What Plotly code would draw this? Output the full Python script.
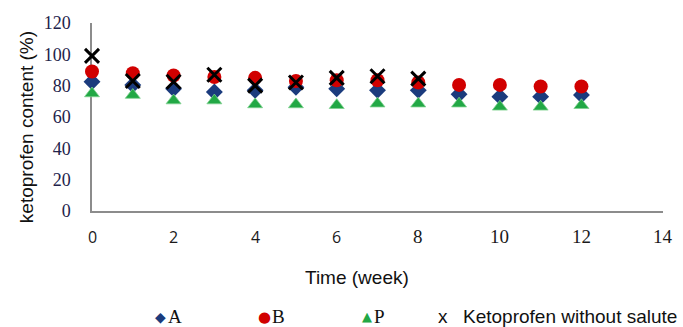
import plotly.graph_objects as go

# Ketoprofen content over storage time
weeks = list(range(13))
series_a = [82.5, 80.5, 78, 76, 77, 79, 78, 77, 77, 74.5, 73, 73, 74]
series_b = [89, 88, 86.5, 85.5, 85, 83, 83.5, 83.5, 82, 80.5, 80.5, 79.5, 79.5]
series_p = [75, 74, 70.5, 70.5, 68, 68, 67.5, 68.5, 68.5, 68.5, 66.5, 66.5, 67.5]
weeks_plain = list(range(9))
plain_keto = [99, 83, 82.5, 87, 80, 82, 85, 86, 84.5]

x_ticks = [0, 2, 4, 6, 8, 10, 12, 14]
y_ticks = [0, 20, 40, 60, 80, 100, 120]

NAVY = "#1b3b7d"
RED = "#d10000"
GREEN = "#22a845"
SANS = "Liberation Sans"
SERIF = "Liberation Serif"
TICK_SANS = "Open Sans"

fig = go.Figure()
fig.add_trace(go.Scatter(x=weeks, y=series_a, mode="markers", name="A",
                         cliponaxis=False,
                         marker=dict(symbol="diamond", size=13, color=NAVY)))
fig.add_trace(go.Scatter(x=weeks, y=series_b, mode="markers", name="B",
                         cliponaxis=False,
                         marker=dict(symbol="circle", size=14, color=RED)))
fig.add_trace(go.Scatter(x=weeks, y=series_p, mode="markers", name="P",
                         cliponaxis=False,
                         marker=dict(symbol="triangle-up", size=13, color=GREEN,
                                     line=dict(color="#7fd08f", width=0.8))))
fig.add_trace(go.Scatter(x=weeks_plain, y=plain_keto, mode="markers",
                         name="Ketoprofen without salute", cliponaxis=False,
                         marker=dict(symbol="x-thin-open", size=14, color="black",
                                     line=dict(color="black", width=3))))

fig.update_layout(
    width=683, height=327,
    margin=dict(l=92, r=20, t=23, b=116),
    paper_bgcolor="white", plot_bgcolor="white",
    showlegend=False,
    xaxis=dict(range=[0, 14], tickvals=x_ticks, showticklabels=False,
               showgrid=False, zeroline=False, showline=True,
               linecolor="#8c8c8c", linewidth=1.5, ticks="", layer="below traces"),
    yaxis=dict(range=[0, 120], tickvals=y_ticks,
               showgrid=False, zeroline=False, showline=True,
               linecolor="#8c8c8c", linewidth=1.5, ticks="", layer="below traces",
               ticklabelstandoff=16,
               tickfont=dict(family=SERIF, size=18, color="#22224a")),
)

def px_x(p):
    return (p - 92) / 571.0

def px_y(p):
    return (211 - p) / 188.3

# X tick labels: early weeks in a sans face, later weeks in a serif face
for t in x_ticks:
    if t < 8:
        fnt = dict(family=TICK_SANS, size=16, color="#1a1a1a")
    else:
        fnt = dict(family=SERIF, size=19, color="#1a1a1a")
    fig.add_annotation(text=str(t), xref="x", yref="paper",
                       x=t, y=px_y(237), showarrow=False,
                       xanchor="center", yanchor="middle", font=fnt)

# Axis titles
fig.add_annotation(text="ketoprofen content (%)", xref="paper", yref="paper",
                   x=px_x(26), y=px_y(127), showarrow=False, textangle=-90,
                   xanchor="center", yanchor="middle",
                   font=dict(family=SANS, size=19, color="#111111"))
fig.add_annotation(text="Time (week)", xref="paper", yref="paper",
                   x=px_x(357), y=px_y(278), showarrow=False,
                   xanchor="center", yanchor="middle",
                   font=dict(family=SANS, size=19, color="#111111"))

# Legend row: symbol glyphs followed by series names
legend_y = px_y(317)
legend_symbols = [
    (160.5, "◆", NAVY, 14),
    (264, "●", RED, 15),
    (367, "▲", GREEN, 13),
]
for xp, glyph, col, fs in legend_symbols:
    fig.add_annotation(text=glyph, xref="paper", yref="paper",
                       x=px_x(xp), y=legend_y, showarrow=False,
                       xanchor="center", yanchor="middle",
                       font=dict(family="DejaVu Sans", size=fs, color=col))

legend_labels = [
    (166, "A", SERIF),
    (270, "B", SERIF),
    (372, "P", SERIF),
    (436, "x", SANS),
    (461, "Ketoprofen without salute", SANS),
]
for xp, txt, fam in legend_labels:
    fig.add_annotation(text=txt, xref="paper", yref="paper",
                       x=px_x(xp), y=legend_y, showarrow=False,
                       xanchor="left", yanchor="middle",
                       font=dict(family=fam, size=19, color="#111111"))

fig.write_html("out.html")
